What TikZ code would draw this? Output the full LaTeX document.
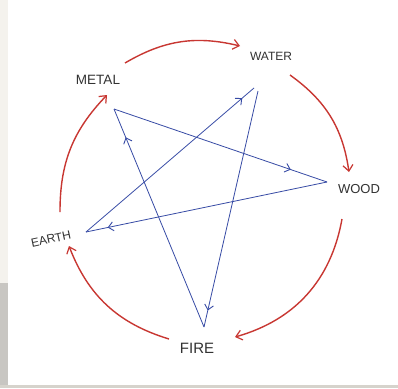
\documentclass[tikz,border=0pt]{standalone}
\usepackage{fontspec}
\setmainfont{Liberation Sans}
\usetikzlibrary{arrows.meta,decorations.markings}
\definecolor{inkred}{RGB}{200,55,50}
\definecolor{inkblue}{RGB}{55,75,165}
\definecolor{inkgray}{RGB}{50,50,50}
\definecolor{stripgray}{RGB}{200,198,194}
\definecolor{stripbeige}{RGB}{244,242,237}
\definecolor{bottomgray}{RGB}{214,211,204}
\begin{document}
\begin{tikzpicture}[x=1pt,y=-1pt,
  lbl/.style={text=inkgray,inner sep=1pt},
  cycle/.style={draw=inkred,line width=1.4pt,-{Straight Barb[length=6pt,width=10pt,line width=1.2pt]}},
  ctrl/.style={draw=inkblue,line width=0.8pt,
    postaction={decorate,decoration={markings,mark=at position #1 with {\arrow{Straight Barb[length=5pt,width=9pt,line width=0.9pt]}}}}}
]
% page and margins
\fill[white] (0,0) rectangle (398,388);
\useasboundingbox (0,0) rectangle (398,388);
\fill[stripbeige] (0,0) rectangle (8,283);
\fill[stripgray] (0,283) rectangle (8,388);
\fill[bottomgray] (0,385) rectangle (398,388);

% labels
\node[lbl,font=\fontsize{13.5}{14}\selectfont] (metal) at (98,80) {METAL};
\node[lbl,font=\fontsize{12}{13}\selectfont] (water) at (271,56) {WATER};
\node[lbl,font=\fontsize{13}{14}\selectfont] (wood) at (359,189) {WOOD};
\node[lbl,font=\fontsize{12}{13}\selectfont,rotate=12] (earth) at (51,239) {EARTH};
\node[lbl,font=\fontsize{15}{16}\selectfont] (fire) at (197,348) {FIRE};

% star vertices
\coordinate (vmetal) at (114,109);
\coordinate (vwaterin) at (254,88);
\coordinate (vwaterout) at (258,91);
\coordinate (vwood) at (327,182);
\coordinate (vearth) at (86,232);
\coordinate (vfire) at (204,327);

% controlling cycle (blue star)
\draw[ctrl=0.83] (vmetal) -- (vwood);
\draw[ctrl=0.91] (vwood) -- (vearth);
\draw[ctrl=0.93] (vearth) -- (vwaterin);
\draw[ctrl=0.93] (vwaterout) -- (vfire);
\draw[ctrl=0.87] (vfire) -- (vmetal);

% generating cycle (red arcs)
\coordinate (a1) at (125,63);  \coordinate (b1) at (240,46);
\coordinate (a2) at (290,75);  \coordinate (b2) at (349,172);
\coordinate (a3) at (342,219); \coordinate (b3) at (235,337);
\coordinate (a4) at (169,339); \coordinate (b4) at (69,246);
\coordinate (a5) at (60,212);  \coordinate (b5) at (107,95);
\draw[cycle] (a1) to[bend left=22] (b1);
\draw[cycle] (a2) to[bend left=23] (b2);
\draw[cycle] (a3) to[bend left=32] (b3);
\draw[cycle] (a4) to[bend left=26] (b4);
\draw[cycle] (a5) to[bend left=22] (b5);
\end{tikzpicture}
\end{document}
